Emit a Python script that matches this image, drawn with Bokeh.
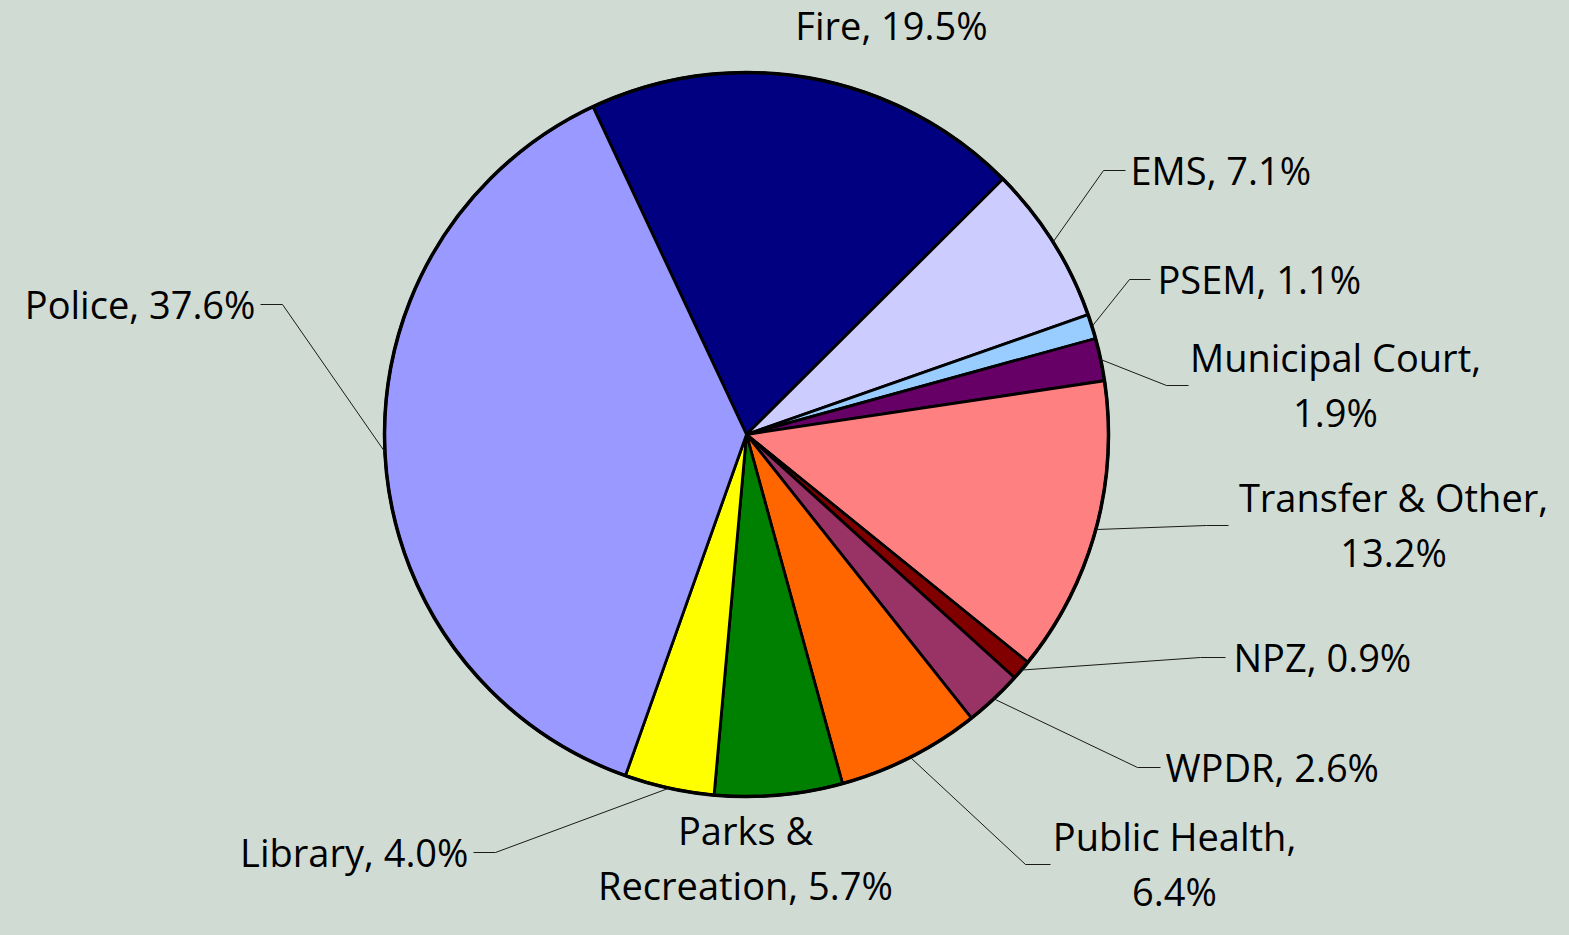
import numpy as np
from bokeh.plotting import figure
from bokeh.models import Range1d
from bokeh.embed import file_html
from bokeh.resources import INLINE
from bokeh.core.properties import value

# ---------------- data ----------------
categories = ["Fire", "EMS", "PSEM", "Municipal Court", "Transfer & Other", "NPZ",
              "WPDR", "Public Health", "Parks & Recreation", "Library", "Police"]
shares = [19.5, 7.1, 1.1, 1.9, 13.2, 0.9, 2.6, 6.4, 5.7, 4.0, 37.6]
colors = ["#000080", "#CCCCFF", "#99CCFF", "#660066", "#FF8080", "#800000",
          "#993366", "#FF6600", "#008000", "#FFFF00", "#9999FF"]

# ---------------- layout (pixel coordinates from top-left) ----------------
BG = "#D0DBD3"
W, H = 1553, 919
CX, CY, R = 746, 434, 362
FIRST_ANGLE = -25.1          # degrees clockwise from 12 o'clock where the first slice starts
FONT = "Open Sans"
FS = 38
LINE_GAP = 55
TEXT_DY = -1                 # baseline offset relative to the cap centre (empirical)
# per label: (anchor x, block centre y, align, elbow x, end x, words on first line)
label_layout = {
    "Fire":               (891, 25, "center", None, None, None),
    "EMS":                (1130, 170, "left", 1103, 1125, None),
    "PSEM":               (1157, 279, "left", 1129, 1150, None),
    "Municipal Court":    (1335, 385, "center", 1166, 1188, 2),
    "Transfer & Other":   (1393, 525, "center", 1206, 1228, 3),
    "NPZ":                (1233, 657, "left", 1200, 1225, None),
    "WPDR":               (1165, 767, "left", 1137, 1160, None),
    "Public Health":      (1174, 864, "center", 1025, 1050, 2),
    "Parks & Recreation": (745, 858, "center", None, None, 2),
    "Library":            (468, 852, "right", 495, 473, None),
    "Police":             (255, 304, "right", 282, 260, None),
}

p = figure(width=W, height=H, x_range=Range1d(0, W), y_range=Range1d(-H, 0),
           output_backend="svg", toolbar_location=None, min_border=0)
p.axis.visible = False
p.grid.visible = False
p.outline_line_color = None
p.background_fill_color = BG
p.border_fill_color = BG

vals = np.array(shares, dtype=float)
frac = vals / vals.sum()
cum = np.concatenate([[0.0], np.cumsum(frac)]) * 360.0 + FIRST_ANGLE   # clockwise from top
starts_cw = cum[:-1]
ends_cw = cum[1:]
start_math = np.radians(90.0 - ends_cw)
end_math = np.radians(90.0 - starts_cw)

p.wedge(x=CX, y=-CY, radius=R, start_angle=start_math, end_angle=end_math,
        fill_color=colors, line_color="black", line_width=2.8)
p.circle(x=CX, y=-CY, radius=R, fill_color=None, line_color="black", line_width=3.5)

# leader lines and labels
mid = np.radians(90.0 - (starts_cw + ends_cw) / 2.0)
lx, ly = [], []
tx, ty, tt, ta = [], [], [], []
for i, cat in enumerate(categories):
    ax, cy, align, ex, endx, brk = label_layout[cat]
    full = f"{cat}, {shares[i]:.1f}%"
    words = full.split(" ")
    lines = [full] if brk is None else [" ".join(words[:brk]), " ".join(words[brk:])]
    n = len(lines)
    for j, ln in enumerate(lines):
        capc = cy + (j - (n - 1) / 2.0) * LINE_GAP
        tx.append(ax)
        ty.append(-(capc + TEXT_DY))
        tt.append(ln)
        ta.append(align)
    if ex is not None:
        px = CX + R * np.cos(mid[i])
        py = CY - R * np.sin(mid[i])
        lx.append([px, ex, endx])
        ly.append([-py, -cy, -cy])

p.multi_line(xs=lx, ys=ly, line_color="#1a1a1a", line_width=1)
for align in ["left", "center", "right"]:
    idx = [k for k in range(len(tt)) if ta[k] == align]
    if not idx:
        continue
    p.text(x=[tx[k] for k in idx], y=[ty[k] for k in idx], text=[tt[k] for k in idx],
           text_font=value(FONT), text_font_size=f"{FS}px", text_color="black",
           text_align=align, text_baseline="alphabetic")

html = file_html(p, INLINE)
html = html.replace("</head>", f"<style>html, body {{ background-color: {BG}; }}</style>\n</head>", 1)
open("out.html", "w").write(html)
